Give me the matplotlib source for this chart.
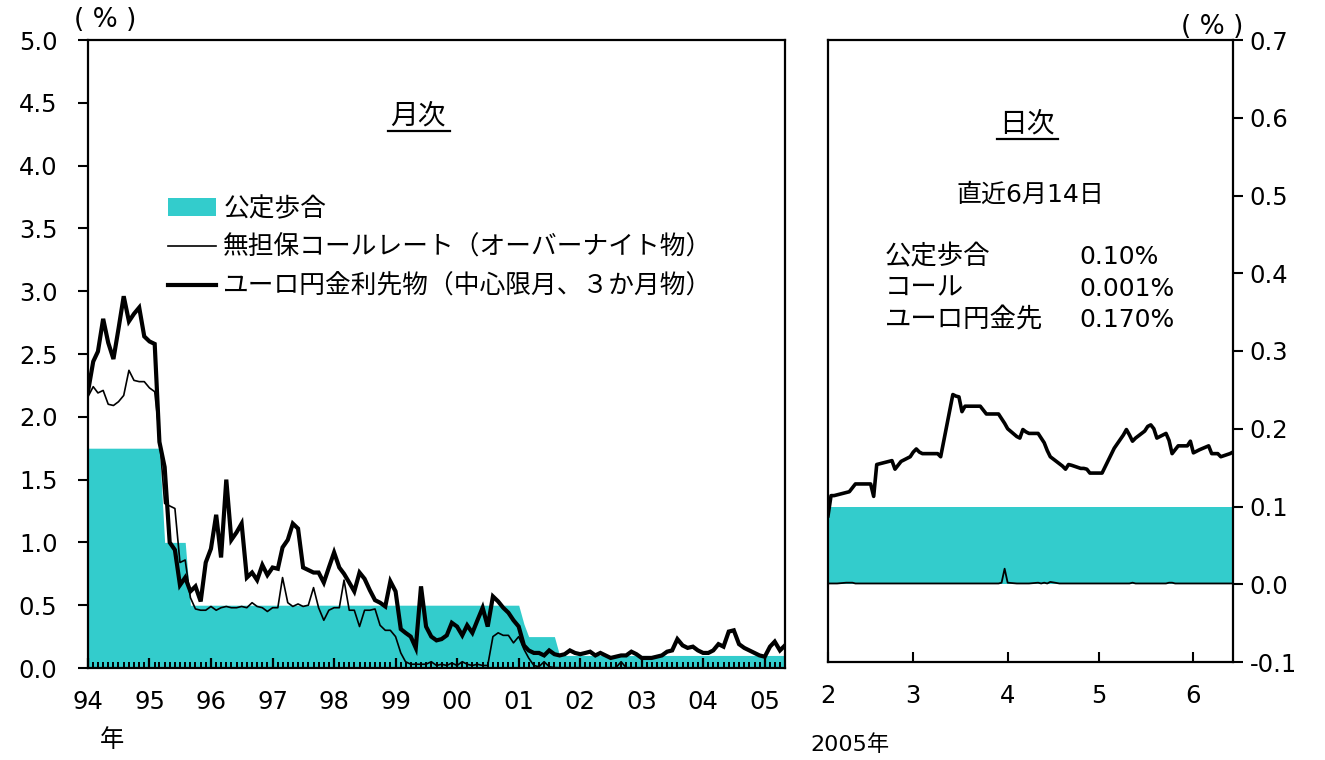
import matplotlib
matplotlib.use('Agg')
import matplotlib.pyplot as plt
import matplotlib.dates as mdates
import pandas as pd
from matplotlib.patches import Patch
from matplotlib.lines import Line2D

plt.rcParams['font.family'] = ['DejaVu Sans', 'Noto Sans CJK JP']

TEAL = '#33CCCC'

# ---------------- monthly data (Jan 1994 - May 2005) ----------------
month_start = '1994-01-01'
policy_m = [1.75, 1.75, 1.75, 1.75, 1.75, 1.75, 1.75, 1.75, 1.75, 1.75, 1.75, 1.75, 1.75, 1.75, 1.75,
            1.0, 1.0, 1.0, 1.0, 1.0,
            0.5, 0.5, 0.5, 0.5, 0.5, 0.5, 0.5, 0.5, 0.5, 0.5, 0.5, 0.5, 0.5, 0.5, 0.5, 0.5,
            0.5, 0.5, 0.5, 0.5, 0.5, 0.5, 0.5, 0.5, 0.5, 0.5, 0.5, 0.5, 0.5, 0.5, 0.5, 0.5,
            0.5, 0.5, 0.5, 0.5, 0.5, 0.5, 0.5, 0.5, 0.5, 0.5, 0.5, 0.5, 0.5, 0.5, 0.5, 0.5,
            0.5, 0.5, 0.5, 0.5, 0.5, 0.5, 0.5, 0.5, 0.5, 0.5, 0.5, 0.5, 0.5, 0.5, 0.5, 0.5,
            0.5,
            0.35,
            0.25, 0.25, 0.25, 0.25, 0.25, 0.25,
            0.1, 0.1, 0.1, 0.1, 0.1, 0.1, 0.1, 0.1, 0.1, 0.1, 0.1, 0.1, 0.1, 0.1, 0.1,
            0.1, 0.1, 0.1, 0.1, 0.1, 0.1, 0.1, 0.1, 0.1, 0.1, 0.1, 0.1, 0.1, 0.1, 0.1,
            0.1, 0.1, 0.1, 0.1, 0.1, 0.1, 0.1, 0.1, 0.1, 0.1, 0.1, 0.1, 0.1, 0.1, 0.1]

call_m = [2.16, 2.24, 2.19, 2.21, 2.10, 2.09, 2.12, 2.17, 2.37, 2.29, 2.28, 2.28, 2.23, 2.20,
          1.85, 1.31, 1.29, 1.27, 0.84, 0.86, 0.56, 0.47, 0.46, 0.46,
          0.49, 0.46, 0.48, 0.49, 0.48, 0.48, 0.49, 0.48, 0.52, 0.49, 0.48, 0.45,
          0.48, 0.48, 0.72, 0.52, 0.49, 0.51, 0.49, 0.50, 0.64, 0.48, 0.38, 0.46,
          0.48, 0.48, 0.70, 0.46, 0.46, 0.33, 0.46, 0.46, 0.47, 0.34, 0.30, 0.30,
          0.25, 0.12, 0.05, 0.03, 0.03, 0.03, 0.03, 0.05, 0.02, 0.03, 0.02, 0.04,
          0.02, 0.05, 0.03, 0.02, 0.03, 0.02, 0.02, 0.25, 0.28, 0.26, 0.26, 0.20,
          0.25, 0.15, 0.08, 0.02, 0.01, 0.05, 0.01, 0.003, 0.002, 0.002, 0.002, 0.002,
          0.002, 0.002, 0.002, 0.002, 0.002, 0.002, 0.002, 0.002, 0.05, 0.002, 0.002, 0.002,
          0.001, 0.001, 0.001, 0.001, 0.001, 0.001, 0.001, 0.001, 0.001, 0.001, 0.001, 0.001,
          0.001, 0.001, 0.001, 0.001, 0.001, 0.001, 0.001, 0.001, 0.001, 0.001, 0.001, 0.001,
          0.001, 0.001, 0.001, 0.001, 0.001]

euro_m = [2.20, 2.44, 2.52, 2.78, 2.59, 2.46, 2.70, 2.96, 2.76, 2.82, 2.87, 2.64, 2.60, 2.58,
          1.80, 1.60, 1.00, 0.94, 0.66, 0.72, 0.61, 0.65, 0.53, 0.84,
          0.95, 1.22, 0.88, 1.50, 1.02, 1.08, 1.15, 0.72, 0.76, 0.70, 0.82, 0.74,
          0.80, 0.79, 0.96, 1.02, 1.15, 1.11, 0.80, 0.78, 0.76, 0.76, 0.68, 0.80,
          0.92, 0.80, 0.75, 0.68, 0.61, 0.76, 0.71, 0.62, 0.54, 0.52, 0.49, 0.69,
          0.61, 0.31, 0.28, 0.25, 0.16, 0.65, 0.33, 0.25, 0.22, 0.23, 0.26, 0.36,
          0.33, 0.26, 0.34, 0.28, 0.38, 0.48, 0.33, 0.57, 0.53, 0.48, 0.44, 0.38,
          0.33, 0.18, 0.14, 0.12, 0.12, 0.10, 0.14, 0.11, 0.10, 0.11, 0.14, 0.12,
          0.11, 0.12, 0.13, 0.10, 0.12, 0.10, 0.08, 0.09, 0.10, 0.10, 0.13, 0.11,
          0.08, 0.08, 0.08, 0.09, 0.10, 0.13, 0.14, 0.23, 0.18, 0.16, 0.17, 0.14,
          0.12, 0.12, 0.14, 0.19, 0.17, 0.29, 0.30, 0.19, 0.16, 0.14, 0.12, 0.10,
          0.09, 0.17, 0.21, 0.14, 0.18]

year_labels = ['94', '95', '96', '97', '98', '99', '00', '01', '02', '03', '04', '05']
left_yticks = [0.0, 0.5, 1.0, 1.5, 2.0, 2.5, 3.0, 3.5, 4.0, 4.5, 5.0]

# ---------------- daily data (2005, business days) ----------------
daily_dates = ['02-01', '02-02', '02-03', '02-04', '02-07', '02-08', '02-09', '02-10', '02-14', '02-15',
               '02-16', '02-17', '02-18', '02-21', '02-22', '02-23', '02-24', '02-25', '02-28',
               '03-01', '03-02', '03-03', '03-04', '03-07', '03-08', '03-09', '03-10', '03-11', '03-14',
               '03-15', '03-16', '03-17', '03-18', '03-22', '03-23', '03-24', '03-25', '03-28', '03-29',
               '03-30', '03-31',
               '04-01', '04-04', '04-05', '04-06', '04-07', '04-08', '04-11', '04-12', '04-13', '04-14',
               '04-15', '04-18', '04-19', '04-20', '04-21', '04-22', '04-25', '04-26', '04-27', '04-28',
               '05-02', '05-06', '05-09', '05-10', '05-11', '05-12', '05-13', '05-16', '05-17', '05-18',
               '05-19', '05-20', '05-23', '05-24', '05-25', '05-26', '05-27', '05-30', '05-31',
               '06-01', '06-02', '06-03', '06-06', '06-07', '06-08', '06-09', '06-10', '06-13', '06-14']

policy_d = [
    0.10, 0.10, 0.10, 0.10, 0.10, 0.10, 0.10, 0.10, 0.10, 0.10, 0.10, 0.10, 0.10, 0.10, 0.10, 0.10, 0.10, 0.10, 0.10,
    0.10, 0.10, 0.10, 0.10, 0.10, 0.10, 0.10, 0.10, 0.10, 0.10, 0.10, 0.10, 0.10, 0.10, 0.10, 0.10, 0.10, 0.10, 0.10,
    0.10, 0.10, 0.10,
    0.10, 0.10, 0.10, 0.10, 0.10, 0.10, 0.10, 0.10, 0.10, 0.10, 0.10, 0.10, 0.10, 0.10, 0.10, 0.10, 0.10, 0.10, 0.10,
    0.10,
    0.10, 0.10, 0.10, 0.10, 0.10, 0.10, 0.10, 0.10, 0.10, 0.10, 0.10, 0.10, 0.10, 0.10, 0.10, 0.10, 0.10, 0.10, 0.10,
    0.10, 0.10, 0.10, 0.10, 0.10, 0.10, 0.10, 0.10, 0.10, 0.10]

call_d = [0.001, 0.001, 0.001, 0.001, 0.002, 0.002, 0.002, 0.001, 0.001, 0.001,
          0.001, 0.001, 0.001, 0.001, 0.001, 0.001, 0.001, 0.001, 0.001,
          0.001, 0.001, 0.001, 0.001, 0.001, 0.001, 0.001, 0.001, 0.001, 0.001,
          0.001, 0.001, 0.001, 0.001, 0.001, 0.001, 0.001, 0.001, 0.001, 0.001,
          0.002, 0.020,
          0.002, 0.001, 0.001, 0.001, 0.001, 0.001, 0.002, 0.001, 0.002, 0.001,
          0.003, 0.001, 0.001, 0.001, 0.001, 0.001, 0.001, 0.001, 0.001, 0.001,
          0.001, 0.001, 0.001, 0.001, 0.001, 0.002, 0.001, 0.001, 0.001, 0.001,
          0.001, 0.001, 0.001, 0.002, 0.002, 0.001, 0.001, 0.001, 0.001,
          0.001, 0.001, 0.001, 0.001, 0.001, 0.001, 0.001, 0.001, 0.001, 0.001]

euro_d = [0.088, 0.114, 0.114, 0.115, 0.118, 0.119, 0.124, 0.129, 0.129, 0.129,
          0.113, 0.154, 0.155, 0.158, 0.159, 0.148, 0.153, 0.158, 0.164,
          0.170, 0.174, 0.170, 0.168, 0.168, 0.168, 0.168, 0.164, 0.184, 0.244,
          0.242, 0.241, 0.222, 0.229, 0.229, 0.229, 0.224, 0.219, 0.219, 0.219,
          0.213, 0.207,
          0.200, 0.190, 0.188, 0.199, 0.196, 0.194, 0.194, 0.188, 0.182, 0.172,
          0.164, 0.155, 0.152, 0.148, 0.154, 0.153, 0.149, 0.149, 0.148, 0.143,
          0.143, 0.175, 0.192, 0.199, 0.192, 0.184, 0.188, 0.197, 0.203, 0.205,
          0.200, 0.188, 0.194, 0.185, 0.168, 0.173, 0.178, 0.178, 0.184,
          0.169, 0.171, 0.173, 0.178, 0.168, 0.168, 0.168, 0.164, 0.168, 0.170]

daily_month_labels = ['2', '3', '4', '5', '6']
right_yticks = [-0.1, 0.0, 0.1, 0.2, 0.3, 0.4, 0.5, 0.6, 0.7]

legend_labels = ['公定歩合', '無担保コールレート（オーバーナイト物）', 'ユーロ円金利先物（中心限月、３か月物）']
latest_rows = [('公定歩合', '0.10%'), ('コール', '0.001%'), ('ユーロ円金先', '0.170%')]

# ---------------- figure ----------------
W, H = 1325, 760
fig = plt.figure(figsize=(W / 100, H / 100), dpi=100)

def fx(px):
    return px / W

def fy(py):
    return 1 - py / H

TICK_FS = 17.5
SPINE_W = 1.6

# ---- left panel (monthly) ----
ax1 = fig.add_axes([fx(88), fy(668), fx(785) - fx(88), fy(40) - fy(668)])
months = pd.date_range(month_start, periods=len(policy_m), freq='MS')
ax1.fill_between(months, 0, policy_m, color=TEAL, lw=0, zorder=1)
ax1.plot(months, call_m, color='black', lw=1.2, zorder=3)
ax1.plot(months, euro_m, color='black', lw=3.0, zorder=4, solid_joinstyle='miter')
ax1.set_xlim(months[0], months[-1])
ax1.set_ylim(0, 5)
ax1.set_yticks(left_yticks)
ax1.set_yticklabels([f'{v:.1f}' for v in left_yticks])
years = pd.date_range(month_start, periods=len(year_labels), freq='12MS')
ax1.set_xticks(years)
ax1.set_xticklabels(year_labels)
ax1.xaxis.set_minor_locator(mdates.MonthLocator())
ax1.tick_params(axis='x', which='major', direction='in', length=7, width=1.6, pad=16, labelsize=TICK_FS)
ax1.tick_params(axis='x', which='minor', direction='in', length=4, width=1.4)
ax1.tick_params(axis='y', which='major', direction='out', length=7, width=1.5, pad=15, labelsize=TICK_FS)
for s in ax1.spines.values():
    s.set_linewidth(SPINE_W)

handles = [Patch(facecolor=TEAL, edgecolor='none'),
           Line2D([], [], color='black', lw=1.2),
           Line2D([], [], color='black', lw=3.0)]
ax1.legend(handles, legend_labels, loc='upper left',
           bbox_to_anchor=((168 - 88) / 697, (668 - 196) / 628),
           frameon=False, fontsize=18.5, handlelength=1.85, handletextpad=0.3, labelspacing=0.5,
           borderaxespad=0, borderpad=0)

fig.text(fx(418), fy(116), '月次', ha='center', va='center', fontsize=20)
fig.add_artist(Line2D([fx(388), fx(450)], [fy(131), fy(131)], color='black', lw=1.6))
fig.text(fx(105), fy(20), '( % )', ha='center', va='center', fontsize=19)
fig.text(fx(112), fy(740), '年', ha='center', va='center', fontsize=17.5)

# ---- right panel (daily) ----
ax2 = fig.add_axes([fx(828), fy(662), fx(1233) - fx(828), fy(40) - fy(662)])
days = pd.to_datetime(['2005-' + d for d in daily_dates])
ax2.fill_between(days, 0, policy_d, color=TEAL, lw=0, zorder=1)
ax2.plot(days, call_d, color='black', lw=1.3, zorder=3)
ax2.plot(days, euro_d, color='black', lw=2.6, zorder=4)
ax2.set_xlim(days[0], days[-1])
ax2.set_ylim(-0.1, 0.7)
ax2.yaxis.tick_right()
ax2.set_yticks(right_yticks)
ax2.set_yticklabels([f'{v:.1f}' for v in right_yticks])
mticks = pd.date_range('2005-02-01', periods=len(daily_month_labels), freq='MS')
ax2.set_xticks(mticks)
ax2.set_xticklabels(daily_month_labels)
ax2.tick_params(axis='x', direction='in', length=7, width=1.5, pad=16, labelsize=TICK_FS)
ax2.tick_params(axis='y', direction='out', length=7, width=1.5, pad=5, labelsize=TICK_FS)
for s in ax2.spines.values():
    s.set_linewidth(SPINE_W)

fig.text(fx(1027), fy(124), '日次', ha='center', va='center', fontsize=20)
fig.add_artist(Line2D([fx(997), fx(1058)], [fy(139), fy(139)], color='black', lw=1.6))
fig.text(fx(1030), fy(195), '直近6月14日', ha='center', va='center', fontsize=18)
for i, (lab, val) in enumerate(latest_rows):
    yy = fy(257 + 31.5 * i)
    fig.text(fx(885), yy, lab, ha='left', va='center', fontsize=19)
    fig.text(fx(1079), yy, val, ha='left', va='center', fontsize=18)
fig.text(fx(1212), fy(27), '( % )', ha='center', va='center', fontsize=19)
fig.text(fx(810), fy(745), '2005年', ha='left', va='center', fontsize=16)

fig.savefig('out.png', dpi=100)
